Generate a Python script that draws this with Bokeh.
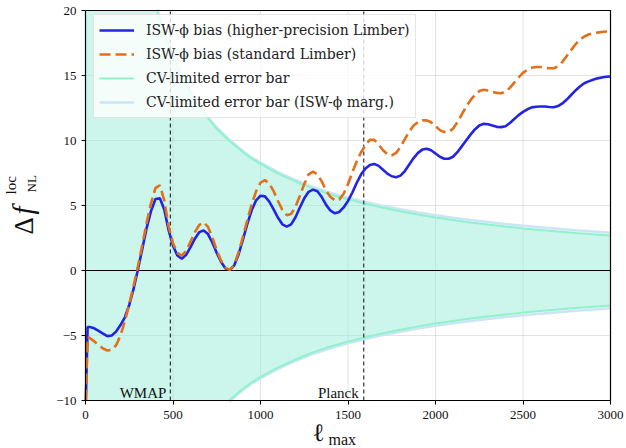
import math
from bokeh.plotting import figure
from bokeh.models import (ColumnDataSource, Label, Legend, LegendItem,
                          FixedTicker, LinearAxis, Range1d)
from bokeh.embed import file_html
from bokeh.resources import INLINE

# multipole grid for the bias curves
ell = [2, 12] + list(range(25, 3001, 25))

# ISW-phi bias, higher-precision Limber
bias_hp = [-10.0, -4.35,
    -4.35, -4.45, -4.65, -4.85, -5.05, -5.0, -4.7, -4.2,
    -3.6, -2.65, -1.4, 0.1, 1.7, 3.3, 4.6, 5.5,
    5.55, 4.7, 3.1, 1.9, 1.15, 0.9, 1.2, 1.8,
    2.45, 2.95, 3.08, 2.8, 2.15, 1.35, 0.65, 0.15,
    0.05, 0.4, 1.25, 2.4, 3.6, 4.65, 5.4, 5.75,
    5.7, 5.3, 4.7, 4.05, 3.55, 3.38, 3.55, 4.1,
    4.85, 5.55, 6.05, 6.22, 6.1, 5.65, 5.05, 4.6,
    4.4, 4.5, 4.85, 5.35, 6.0, 6.75, 7.4, 7.85,
    8.12, 8.2, 8.05, 7.75, 7.45, 7.25, 7.18, 7.3,
    7.65, 8.15, 8.65, 9.05, 9.3, 9.37, 9.25, 9.0,
    8.75, 8.6, 8.6, 8.75, 9.1, 9.55, 10.0, 10.45,
    10.85, 11.15, 11.28, 11.25, 11.15, 11.05, 11.03, 11.1,
    11.35, 11.65, 11.95, 12.2, 12.4, 12.55, 12.6, 12.62,
    12.62, 12.58, 12.56, 12.65, 12.85, 13.15, 13.5, 13.85,
    14.15, 14.4, 14.55, 14.67, 14.78, 14.85, 14.9, 14.92]

# ISW-phi bias, standard Limber
bias_std = [-10.0, -5.1,
    -5.2, -5.45, -5.75, -6.0, -6.15, -6.1, -5.75, -5.0,
    -3.9, -2.6, -1.15, 0.35, 2.0, 3.7, 5.2, 6.35,
    6.55, 5.4, 3.4, 2.1, 1.35, 1.15, 1.5, 2.2,
    2.95, 3.5, 3.7, 3.35, 2.55, 1.55, 0.75, 0.2,
    0.05, 0.45, 1.4, 2.6, 3.9, 5.1, 6.1, 6.75,
    6.95, 6.7, 6.1, 5.35, 4.65, 4.25, 4.35, 4.9,
    5.75, 6.65, 7.4, 7.6, 7.4, 6.85, 6.15, 5.65,
    5.4, 5.45, 5.9, 6.65, 7.55, 8.4, 9.1, 9.65,
    10.05, 10.05, 9.7, 9.25, 8.95, 8.85, 9.05, 9.5,
    10.1, 10.7, 11.15, 11.42, 11.55, 11.55, 11.4, 11.1,
    10.8, 10.65, 10.65, 10.9, 11.4, 12.0, 12.6, 13.1,
    13.5, 13.8, 13.9, 13.85, 13.75, 13.66, 13.64, 13.75,
    14.05, 14.45, 14.85, 15.2, 15.45, 15.6, 15.65, 15.65,
    15.6, 15.56, 15.56, 15.7, 16.05, 16.5, 16.95, 17.4,
    17.75, 18.0, 18.15, 18.25, 18.3, 18.35, 18.38, 18.4]

# cosmic-variance-limited 1-sigma error on f_NL
ell_err = [2, 100, 200, 300, 350, 400, 410, 450, 500, 550, 600, 650, 700,
           750, 800, 820, 850, 900, 950, 1000, 1100, 1200, 1300, 1400, 1500,
           1600, 1700, 1800, 1900, 2000, 2100, 2200, 2300, 2400, 2500, 2600,
           2700, 2800, 2900, 3000]
sigma_cv = [80.0, 80.0, 41.0, 27.3, 23.4, 20.5, 20.0, 18.2, 16.4, 14.9,
            13.7, 12.6, 11.7, 10.9, 10.25, 10.0, 9.65, 9.1, 8.6, 8.2, 7.45,
            6.85, 6.3, 5.85, 5.47, 5.13, 4.82, 4.55, 4.3, 4.08, 3.88, 3.7,
            3.53, 3.38, 3.24, 3.11, 3.0, 2.89, 2.79, 2.7]
sigma_marg = [80.0, 80.0, 41.1, 27.4, 23.5, 20.6, 20.1, 18.3, 16.5, 15.0,
              13.8, 12.7, 11.8, 11.0, 10.35, 10.1, 9.75, 9.2, 8.7, 8.3, 7.56,
              6.96, 6.42, 5.98, 5.6, 5.27, 4.97, 4.71, 4.47, 4.25, 4.06,
              3.89, 3.73, 3.58, 3.45, 3.33, 3.21, 3.1, 3.0, 2.9]

# experiment resolution limits
ell_wmap = 485
ell_planck = 1590

x_ticks = [0, 500, 1000, 1500, 2000, 2500, 3000]
y_ticks = [-10, -5, 0, 5, 10, 15, 20]
XLIM = (0, 3000)
YLIM = (-10, 20)

SERIF = "Liberation Serif"
LEG_FONT = "DejaVu Serif"
INK = "#111111"

W, H = 626, 448
# where the data box sits on the canvas
BOX_L, BOX_R, BOX_T, BOX_B = 85, 610, 10, 400
kx = (BOX_R - BOX_L) / (XLIM[1] - XLIM[0])
ky = (BOX_B - BOX_T) / (YLIM[1] - YLIM[0])


def dx(px):
    return XLIM[0] + (px - BOX_L) / kx


def dy(py):
    return YLIM[1] - (py - BOX_T) / ky


nan = float("nan")
errs = ColumnDataSource(data=dict(
    ell=ell_err,
    cv_up=[min(s, YLIM[1]) for s in sigma_cv],
    cv_lo=[max(-s, YLIM[0]) for s in sigma_cv],
    mg_up=[min(s, YLIM[1]) for s in sigma_marg],
    mg_lo=[max(-s, YLIM[0]) for s in sigma_marg],
    cv_up_l=[s if s <= YLIM[1] + 0.2 else nan for s in sigma_cv],
    cv_lo_l=[-s if -s >= YLIM[0] - 0.2 else nan for s in sigma_cv],
    mg_up_l=[s if s <= YLIM[1] + 0.2 else nan for s in sigma_marg],
    mg_lo_l=[-s if -s >= YLIM[0] - 0.2 else nan for s in sigma_marg]))
curves = ColumnDataSource(data=dict(ell=ell, hp=bias_hp, std=bias_std))

p = figure(width=W, height=H,
           x_range=Range1d(dx(0), dx(W)), y_range=Range1d(dy(H), dy(0)),
           output_backend="svg", toolbar_location=None,
           x_axis_type=None, y_axis_type=None,
           min_border_left=0, min_border_right=0,
           min_border_top=0, min_border_bottom=0)
p.background_fill_color = "white"
p.border_fill_color = "white"
p.outline_line_color = None
p.xgrid.visible = False
p.ygrid.visible = False

# axes pinned to the box edges
xaxis = LinearAxis(fixed_location=YLIM[0], bounds=XLIM,
                   ticker=FixedTicker(ticks=x_ticks))
yaxis = LinearAxis(fixed_location=XLIM[0], bounds=YLIM,
                   ticker=FixedTicker(ticks=y_ticks))
yaxis.major_label_overrides = {-10: "\u221210", -5: "\u22125"}
for ax in (xaxis, yaxis):
    ax.major_tick_in = 0
    ax.major_tick_out = 4
    ax.minor_tick_line_color = None
    ax.axis_line_color = "black"
    ax.axis_line_width = 1.2
    ax.major_tick_line_color = "black"
    ax.major_label_text_font = SERIF
    ax.major_label_text_font_size = "13px"
    ax.major_label_text_color = INK
xaxis.major_label_standoff = 6
yaxis.major_label_standoff = 5
p.add_layout(xaxis, "below")
p.add_layout(yaxis, "left")

# grid lines at the ticks, confined to the box
p.segment(x0=x_ticks, x1=x_ticks, y0=[YLIM[0]] * len(x_ticks),
          y1=[YLIM[1]] * len(x_ticks), line_color="#b0b0b0", line_alpha=0.35,
          line_width=1)
p.segment(x0=[XLIM[0]] * len(y_ticks), x1=[XLIM[1]] * len(y_ticks),
          y0=y_ticks, y1=y_ticks, line_color="#b0b0b0", line_alpha=0.35,
          line_width=1)

# error bands
p.varea(x="ell", y1="mg_lo", y2="mg_up", source=errs,
        fill_color="#d6ebf9", fill_alpha=0.3)
p.varea(x="ell", y1="cv_lo", y2="cv_up", source=errs,
        fill_color="#67ecbe", fill_alpha=0.28)

mg_u = p.line("ell", "mg_up_l", source=errs, line_color="#cbe5f8",
              line_width=2.5)
p.line("ell", "mg_lo_l", source=errs, line_color="#cbe5f8", line_width=2.5)
cv_u = p.line("ell", "cv_up_l", source=errs, line_color="#8ff2ca",
              line_width=2)
p.line("ell", "cv_lo_l", source=errs, line_color="#8ff2ca", line_width=2)

# zero line and experiment limits
p.segment(x0=[XLIM[0]], x1=[XLIM[1]], y0=[0], y1=[0], line_color="black",
          line_width=1)
p.segment(x0=[ell_wmap, ell_planck], x1=[ell_wmap, ell_planck],
          y0=[YLIM[0]] * 2, y1=[YLIM[1]] * 2, line_color="#333333",
          line_width=1.2, line_dash="4 3")

# bias curves
r_hp = p.line("ell", "hp", source=curves, line_color="#2323e6", line_width=2.6)
r_std = p.line("ell", "std", source=curves, line_color="#e0701a",
               line_width=2.6, line_dash="11 5")

# top and right edges of the box (left and bottom are the axes)
p.line(x=[XLIM[0], XLIM[1], XLIM[1]], y=[YLIM[1], YLIM[1], YLIM[0]],
       line_color="black", line_width=1.2)

# labels (text_baseline "middle": positioned on the glyph centre line)
p.add_layout(Label(x=ell_wmap, y=dy(392), x_offset=-4, text="WMAP",
                   text_align="right", text_baseline="middle",
                   text_font=SERIF, text_font_size="15px", text_color=INK))
p.add_layout(Label(x=ell_planck, y=dy(392), x_offset=-5, text="Planck",
                   text_align="right", text_baseline="middle",
                   text_font=SERIF, text_font_size="15px", text_color=INK))

legend = Legend(items=[
    LegendItem(label="ISW-\u03d5 bias (higher-precision Limber)", renderers=[r_hp]),
    LegendItem(label="ISW-\u03d5 bias (standard Limber)", renderers=[r_std]),
    LegendItem(label="CV-limited error bar", renderers=[cv_u]),
    LegendItem(label="CV-limited error bar (ISW-\u03d5 marg.)", renderers=[mg_u]),
], location=(93, H - 118))
legend.margin = 0
legend.padding = 5
legend.spacing = 4
legend.label_height = 20
legend.glyph_height = 20
legend.glyph_width = 35
legend.label_standoff = 12
legend.label_text_font = LEG_FONT
legend.label_text_font_size = "14px"
legend.label_text_color = "#222222"
legend.border_line_color = "#cccccc"
legend.border_line_width = 1
legend.background_fill_color = "white"
legend.background_fill_alpha = 0.8
p.add_layout(legend)

# x-axis label: ell_max
p.add_layout(Label(x=dx(312), y=dy(432), text="\u2113", text_font=SERIF,
                   text_font_size="25px", text_baseline="middle",
                   text_color=INK))
p.add_layout(Label(x=dx(328), y=dy(439), text="max", text_font=SERIF,
                   text_font_size="16px", text_baseline="middle",
                   text_color=INK))

# y-axis label: Delta f_NL^loc
up = math.pi / 2
p.add_layout(Label(x=dx(23), y=dy(234), text="\u0394", angle=up,
                   text_font=SERIF, text_font_size="27px",
                   text_baseline="middle", text_color=INK))
p.add_layout(Label(x=dx(22), y=dy(214), text="f", angle=up,
                   text_font=SERIF, text_font_style="italic",
                   text_font_size="29px", text_baseline="middle",
                   text_color=INK))
p.add_layout(Label(x=dx(10), y=dy(194), text="loc", angle=up,
                   text_font=SERIF, text_font_size="15px",
                   text_baseline="middle", text_color=INK))
p.add_layout(Label(x=dx(31), y=dy(192), text="NL", angle=up,
                   text_font=SERIF, text_font_size="13px",
                   text_baseline="middle", text_color=INK))

open("out.html", "w").write(file_html(p, INLINE))
